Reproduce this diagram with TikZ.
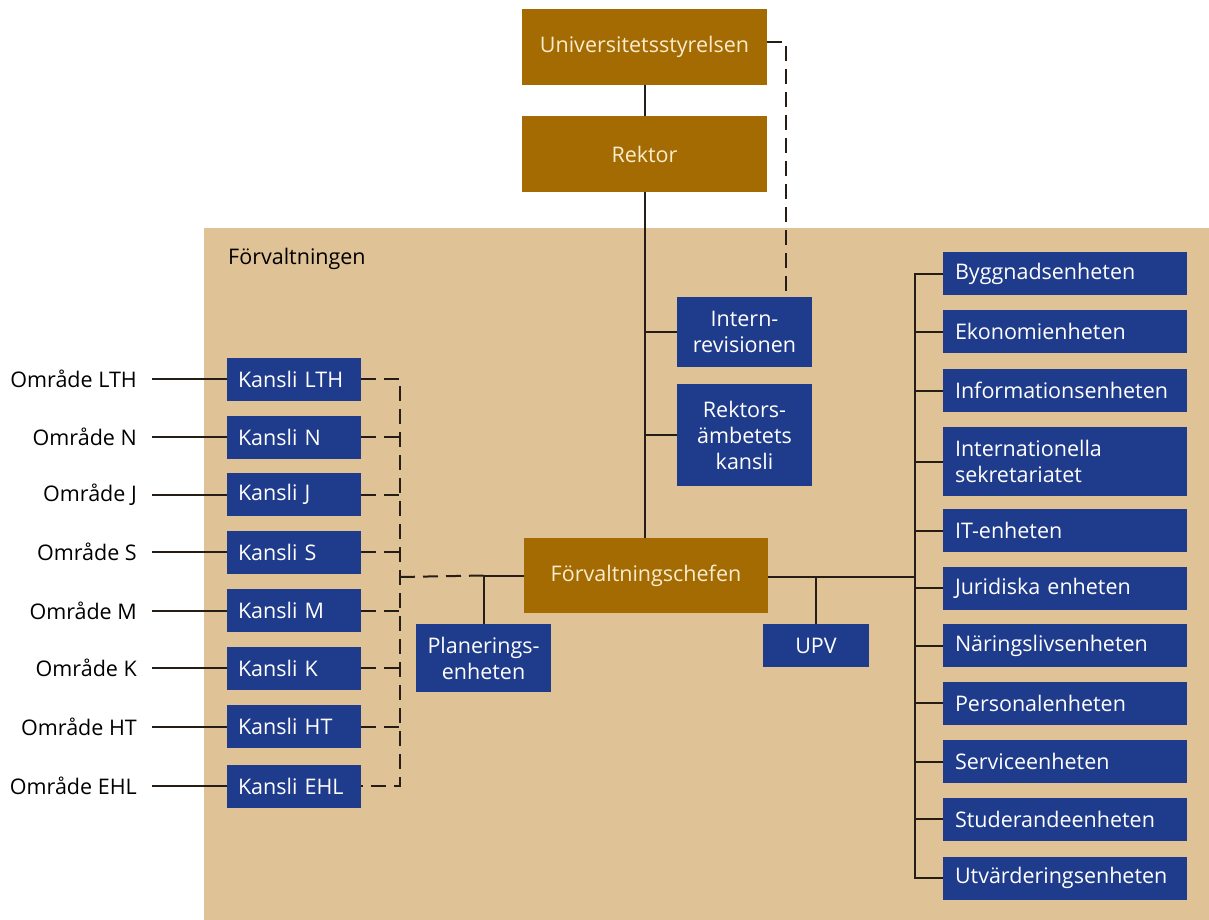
\documentclass[tikz,border=0pt]{standalone}
\usepackage{fontspec}
\setmainfont{Open Sans}
\usetikzlibrary{calc}
\definecolor{lubrown}{RGB}{163,107,2}
\definecolor{lublue}{RGB}{31,59,140}
\definecolor{lubeige}{RGB}{223,194,149}
\definecolor{cream}{RGB}{250,236,204}
\definecolor{linec}{RGB}{38,30,22}
\begin{document}
\begin{tikzpicture}[x=1pt,y=-1pt,
  lbl/.style={font=\fontsize{21.5}{26}\selectfont, inner sep=0pt},
  brownbox/.style={fill=lubrown, text=cream, font=\fontsize{21.5}{26}\selectfont,
    minimum width=245pt, minimum height=76pt, inner sep=0pt, align=center},
  bluebox/.style={fill=lublue, text=white, font=\fontsize{21.5}{26}\selectfont,
    inner sep=0pt, align=center},
  unitbox/.style={bluebox, minimum width=244pt, minimum height=43pt,
    text width=220pt, align=left},
  kansli/.style={bluebox, minimum width=134pt, minimum height=43pt,
    text width=112pt, align=left},
  conn/.style={draw=linec, line width=2pt},
  dconn/.style={conn, dash pattern=on 15pt off 8pt},
]
\useasboundingbox (0,0) rectangle (1209,920);
\fill[white] (0,0) rectangle (1209,920);
% administration area
\fill[lubeige] (204,228) rectangle (1209,920);
\node[lbl, anchor=west] (forvaltningen) at (228,259) {Förvaltningen};

% top of the organisation
\node[brownbox] (styrelse) at (644.5,47) {Universitetsstyrelsen};
\node[brownbox] (rektor) at (644.5,154) {Rektor};
\node[brownbox, minimum width=244pt, minimum height=75pt] (chef) at (646,575.5) {Förvaltningschefen};

\node[bluebox, minimum width=135pt, minimum height=70pt] (intern) at (744.5,332) {Intern-\\revisionen};
\node[bluebox, minimum width=135pt, minimum height=102pt] (rak) at (744.5,435) {Rektors-\\ämbetets\\kansli};
\node[bluebox, minimum width=135pt, minimum height=68pt] (plan) at (483.5,658) {Planerings-\\enheten};
\node[bluebox, minimum width=106pt, minimum height=43pt] (upv) at (816,645.5) {UPV};

% units under the head of administration
\node[unitbox] (u1) at (1065,273.5) {Byggnadsenheten};
\node[unitbox] (u2) at (1065,331.5) {Ekonomienheten};
\node[unitbox] (u3) at (1065,390.5) {Informationsenheten};
\node[unitbox, minimum height=69pt] (u4) at (1065,461.5) {Internationella\\sekretariatet};
\node[unitbox] (u5) at (1065,530.5) {IT-enheten};
\node[unitbox] (u6) at (1065,588) {Juridiska enheten};
\node[unitbox] (u7) at (1065,645.5) {Näringslivsenheten};
\node[unitbox] (u8) at (1065,703) {Personalenheten};
\node[unitbox] (u9) at (1065,761.5) {Serviceenheten};
\node[unitbox] (u10) at (1065,819) {Studerandeenheten};
\node[unitbox] (u11) at (1065,878) {Utvärderingsenheten};

% faculty offices and their areas
\foreach \n/\y in {LTH/379, N/437, J/494.5, S/552, M/610.5, K/668, HT/726.5, EHL/786}{
  \node[kansli] (k\n) at (294,\y) {Kansli \n};
  \node[lbl, anchor=east] (o\n) at (137,\y) {Område \n};
  \draw[conn] ([xshift=15pt]o\n.east) -- (k\n.west);
}

% solid lines
\draw[conn] (styrelse) -- (rektor);
\coordinate (trunk) at (rektor.south |- chef.north);
\draw[conn] (rektor.south) -- (trunk);
\draw[conn] (intern.west) -- (intern.west -| trunk);
\draw[conn] (rak.west) -- (rak.west -| trunk);
\coordinate (pj) at (plan.north |- chef.west);
\draw[conn] (plan.north) -- (pj) -- (chef.west);
\draw[conn] (upv.north) -- (upv.north |- chef.east);
\coordinate (rt) at (915,577);
\draw[conn] (chef.east |- rt) -- (rt);
\draw[conn] (u1.west) -| (rt |- u11.west) -- (u11.west);
\foreach \i in {2,...,10}{
  \draw[conn] (u\i.west) -- (u\i.west -| rt);
}

% dashed lines
\coordinate (ia) at ([xshift=-26pt]intern.north east);
\draw[dconn] (styrelse.east |- 0,42) -| (ia);
\coordinate (kb) at (400,577);
\draw[dconn] (kLTH.east) -- (kLTH.east -| kb) -- (kEHL.east -| kb) -- (kEHL.east);
\foreach \n in {N,J,S,M,K,HT}{
  \draw[dconn] (k\n.east) -- (k\n.east -| kb);
}
\draw[dconn] (kb) -- (pj);
\end{tikzpicture}
\end{document}
